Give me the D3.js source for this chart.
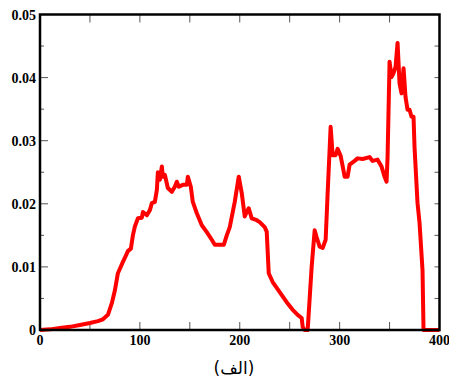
<!DOCTYPE html>
<html>
<head>
<meta charset="utf-8">
<script src="https://cdn.jsdelivr.net/npm/d3@7"></script>
<style>
  body { margin: 0; background: #fff; }
  .tick-label { font-family: "Liberation Serif", serif; font-weight: bold; font-size: 14px; }
</style>
</head>
<body>
<svg id="chart"></svg>
<script>
// values
const xValues = [0, 10, 20, 30, 40, 50, 58, 63, 68, 72, 75, 78, 80, 83, 86, 88, 91, 93, 95, 98,
  102, 103, 107, 110, 112, 115, 117, 118, 120, 122, 123, 125, 128, 132, 135, 137, 139, 143, 147, 148,
  151, 153, 157, 162, 167, 172, 175, 180, 184, 187, 190, 195, 199, 202, 205, 207, 209, 212, 217, 220,
  225, 227, 229, 233, 240, 247, 253, 258, 262, 263, 265, 268, 272, 275, 277, 280, 283, 286, 288, 291,
  293, 296, 298, 301, 303, 305, 308, 310, 315, 318, 323, 330, 333, 338, 342, 345, 347, 348, 350, 352,
  354, 356, 358, 360, 362, 364, 366, 368, 370, 372, 374, 375, 378, 380, 383, 384, 400];
const yValues = [0, 0.0001, 0.0003, 0.0005, 0.0008, 0.0011, 0.0014, 0.0017, 0.0024, 0.0043, 0.0063, 0.009, 0.0097, 0.0108, 0.0118, 0.0125, 0.0129, 0.015, 0.0164, 0.0177,
  0.0178, 0.0187, 0.0182, 0.019, 0.0201, 0.0203, 0.0222, 0.025, 0.0238, 0.0259, 0.0243, 0.0246, 0.0225, 0.0219, 0.0227, 0.0235, 0.0227, 0.023, 0.023, 0.0243,
  0.0227, 0.0203, 0.0185, 0.0166, 0.0155, 0.0143, 0.0135, 0.0135, 0.0135, 0.015, 0.0163, 0.0203, 0.0243, 0.0217, 0.018, 0.0187, 0.0193, 0.0177, 0.0174, 0.0171,
  0.0163, 0.0156, 0.009, 0.0076, 0.006, 0.0044, 0.0032, 0.0024, 0.0019, 0.0005, 0, 0, 0.01, 0.0158, 0.0147, 0.0132, 0.013, 0.0143, 0.0217, 0.0322,
  0.0277, 0.0277, 0.0287, 0.0276, 0.026, 0.0243, 0.0243, 0.0262, 0.0268, 0.0272, 0.0271, 0.0274, 0.0268, 0.027, 0.0259, 0.0243, 0.0235, 0.0274, 0.0425, 0.0401,
  0.0407, 0.0417, 0.0455, 0.0391, 0.0375, 0.0415, 0.0369, 0.0349, 0.0349, 0.0338, 0.0338, 0.029, 0.0201, 0.017, 0.0095, 0, 0];

const xTickLabels = [0, 100, 200, 300, 400];
const yTickLabels = [0, 0.01, 0.02, 0.03, 0.04, 0.05];
const captionText = "(الف)";

const width = 449, height = 380;
const plot = {left: 40, right: 439.5, top: 14.5, bottom: 330};

const svg = d3.select("#chart").attr("width", width).attr("height", height);

const x = d3.scaleLinear().domain([0, 400]).range([plot.left, plot.right]);
const y = d3.scaleLinear().domain([0, 0.05]).range([plot.bottom, plot.top]);

// inward ticks, every 50 on x and every 0.005 on y
const xMinor = d3.range(0, 401, 50);
const yMinor = d3.range(0, 0.0501, 0.005);

const ticks = svg.append("g").attr("stroke", "#555").attr("stroke-width", 1);
xMinor.forEach(function (v) {
    ticks.append("line").attr("x1", x(v)).attr("x2", x(v)).attr("y1", plot.bottom).attr("y2", plot.bottom - 8);
    ticks.append("line").attr("x1", x(v)).attr("x2", x(v)).attr("y1", plot.top).attr("y2", plot.top + 8);
});
yMinor.forEach(function (v, i) {
    let len = (i % 2 === 0) ? 8 : 4;
    ticks.append("line").attr("x1", plot.left).attr("x2", plot.left + len).attr("y1", y(v)).attr("y2", y(v));
    ticks.append("line").attr("x1", plot.right).attr("x2", plot.right - 5).attr("y1", y(v)).attr("y2", y(v));
});

// the red curve
const line = d3.line()
    .x(function (d, i) { return x(xValues[i]); })
    .y(function (d, i) { return y(yValues[i]); });

svg.append("path")
    .datum(xValues)
    .attr("d", line)
    .attr("fill", "none")
    .attr("stroke", "#ff0000")
    .attr("stroke-width", 4)
    .attr("stroke-linejoin", "round");

// frame
svg.append("rect")
    .attr("x", plot.left).attr("y", plot.top)
    .attr("width", plot.right - plot.left).attr("height", plot.bottom - plot.top)
    .attr("fill", "none")
    .attr("stroke", "#000")
    .attr("stroke-width", 2.5);

svg.selectAll("text.xl")
    .data(xTickLabels)
    .enter()
    .append("text")
    .attr("class", "tick-label")
    .attr("x", function (d) { return x(d); })
    .attr("y", plot.bottom + 15)
    .attr("text-anchor", "middle")
    .text(function (d) { return d; });

svg.selectAll("text.yl")
    .data(yTickLabels)
    .enter()
    .append("text")
    .attr("class", "tick-label")
    .attr("x", plot.left - 4)
    .attr("y", function (d) { return y(d) + 5; })
    .attr("text-anchor", "end")
    .text(function (d) { return d === 0 ? "0" : d.toFixed(2); });

svg.append("text")
    .attr("x", 234)
    .attr("y", 374)
    .attr("text-anchor", "middle")
    .attr("font-family", "DejaVu Sans, sans-serif")
    .attr("font-size", 17)
    .text(captionText);
</script>
</body>
</html>
